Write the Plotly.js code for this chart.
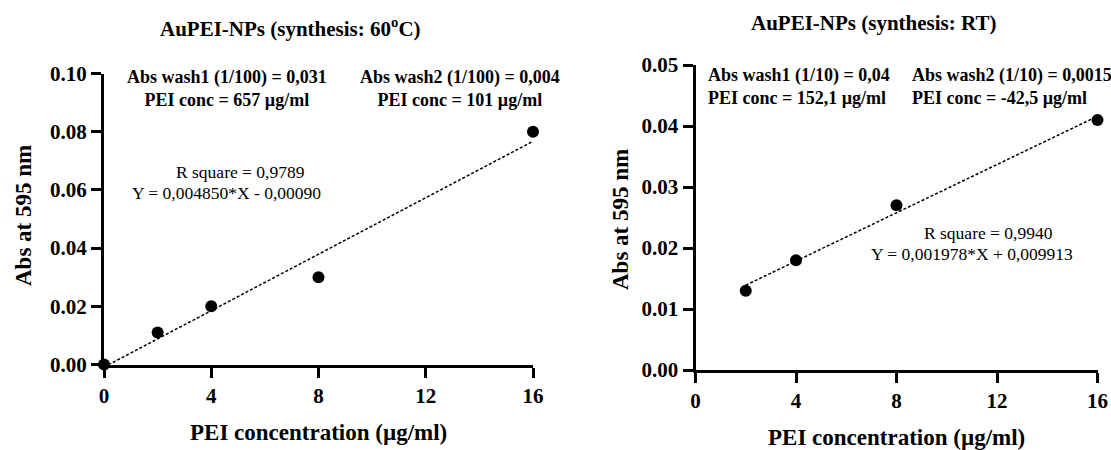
<!DOCTYPE html>
<html>
<head>
<meta charset="utf-8">
<script src="https://cdn.plot.ly/plotly-3.0.1.min.js"></script>
<style>html,body{margin:0;padding:0;background:#fff;}#chart{width:1111px;height:450px;}</style>
</head>
<body>
<div id="chart"></div>
<script>
// ---- data ----
const hotX = [0, 2, 4, 8, 16];
const hotY = [0.000, 0.011, 0.020, 0.030, 0.080];
const hotFitX = [0, 16];
const hotFitY = [-0.0009, 0.0767];

const rtX = [2, 4, 8, 16];
const rtY = [0.013, 0.018, 0.027, 0.041];
const rtFitX = [2, 16];
const rtFitY = [0.0139, 0.0416];

const xTicks = [0, 4, 8, 12, 16];
const hotYTicks = [0, 0.02, 0.04, 0.06, 0.08, 0.10];
const rtYTicks = [0, 0.01, 0.02, 0.03, 0.04, 0.05];

const titles = ["AuPEI-NPs (synthesis: 60<sup>o</sup>C)", "AuPEI-NPs (synthesis: RT)"];
const xTitle = "PEI concentration (µg/ml)";
const yTitle = "Abs at 595 nm";
const hotNotes = ["Abs wash1 (1/100) = 0,031<br>PEI conc = 657 µg/ml", "Abs wash2 (1/100) = 0,004<br>PEI conc = 101 µg/ml"];
const hotFit = ["R square = 0,9789", "Y = 0,004850*X - 0,00090"];
const rtNotes = ["Abs wash1 (1/10) = 0,04<br>PEI conc = 152,1 µg/ml", "Abs wash2 (1/10) = 0,0015<br>PEI conc = -42,5 µg/ml"];
const rtFit = ["R square = 0,9940", "Y = 0,001978*X + 0,009913"];

// ---- layout helpers ----
const W = 1111, H = 450;
const px = v => v / W;
const py = v => 1 - v / H;
const SERIF = "Liberation Serif, Times New Roman, serif";

const markerStyle = {color: "#000", size: 12, symbol: "circle"};
const fitStyle = {color: "#000", width: 1.5, dash: "3px,2px"};

const traces = [
  {x: hotFitX, y: hotFitY, mode: "lines", line: fitStyle, xaxis: "x", yaxis: "y", cliponaxis: false, hoverinfo: "skip"},
  {x: hotX, y: hotY, mode: "markers", marker: markerStyle, xaxis: "x", yaxis: "y", cliponaxis: false},
  {x: rtFitX, y: rtFitY, mode: "lines", line: fitStyle, xaxis: "x2", yaxis: "y2", cliponaxis: false, hoverinfo: "skip"},
  {x: rtX, y: rtY, mode: "markers", marker: markerStyle, xaxis: "x2", yaxis: "y2", cliponaxis: false}
];

const tickFont = {family: SERIF, size: 21, color: "#000", weight: "bold"};
function axis(extra) {
  return Object.assign({
    showline: true, linecolor: "#000", linewidth: 3,
    ticks: "outside", ticklen: 10, tickwidth: 3, tickcolor: "#000",
    showgrid: false, zeroline: false, tickfont: tickFont, fixedrange: true
  }, extra);
}

const boldNote = {family: SERIF, size: 18, color: "#000", weight: "bold"};
const plainNote = {family: SERIF, size: 17.5, color: "#000"};
const titleFont = {family: SERIF, size: 21, color: "#000", weight: "bold"};
const axTitleFont = {family: SERIF, size: 23, color: "#000", weight: "bold"};

function ann(text, x, y, font, opts) {
  return Object.assign({text: text, xref: "paper", yref: "paper", x: px(x), y: py(y),
    xanchor: "center", yanchor: "middle", showarrow: false, font: font}, opts || {});
}

const annotations = [
  ann(titles[0], 290, 28, titleFont),
  ann(titles[1], 873, 23, titleFont),
  ann(xTitle, 318, 432, axTitleFont),
  ann(xTitle, 896, 437, axTitleFont),
  ann(yTitle, 23, 216, axTitleFont, {textangle: -90}),
  ann(yTitle, 620, 220, axTitleFont, {textangle: -90}),
  ann(hotNotes[0], 227, 88, boldNote),
  ann(hotNotes[1], 460, 88, boldNote),
  ann(hotFit[0], 240, 172, plainNote),
  ann(hotFit[1], 226, 193, plainNote),
  ann(rtNotes[0], 706, 86, boldNote, {xanchor: "left", align: "left"}),
  ann(rtNotes[1], 910, 86, boldNote, {xanchor: "left", align: "left"}),
  ann(rtFit[0], 988, 233, plainNote),
  ann(rtFit[1], 972, 254, plainNote)
];

const layout = {
  width: W, height: H,
  margin: {l: 0, r: 0, t: 0, b: 0},
  paper_bgcolor: "#fff", plot_bgcolor: "#fff",
  showlegend: false,
  xaxis: axis({domain: [px(104), px(533)], range: [0, 16], tickvals: xTicks, anchor: "y"}),
  yaxis: axis({domain: [py(364.5), py(73.5)], range: [0, 0.10], tickvals: hotYTicks, tickformat: ".2f", anchor: "x"}),
  xaxis2: axis({domain: [px(695.5), px(1097.5)], range: [0, 16], tickvals: xTicks, anchor: "y2"}),
  yaxis2: axis({domain: [py(370), py(65)], range: [0, 0.05], tickvals: rtYTicks, tickformat: ".2f", anchor: "x2"}),
  annotations: annotations
};

Plotly.newPlot("chart", traces, layout, {displayModeBar: false, staticPlot: true});
</script>
</body>
</html>
